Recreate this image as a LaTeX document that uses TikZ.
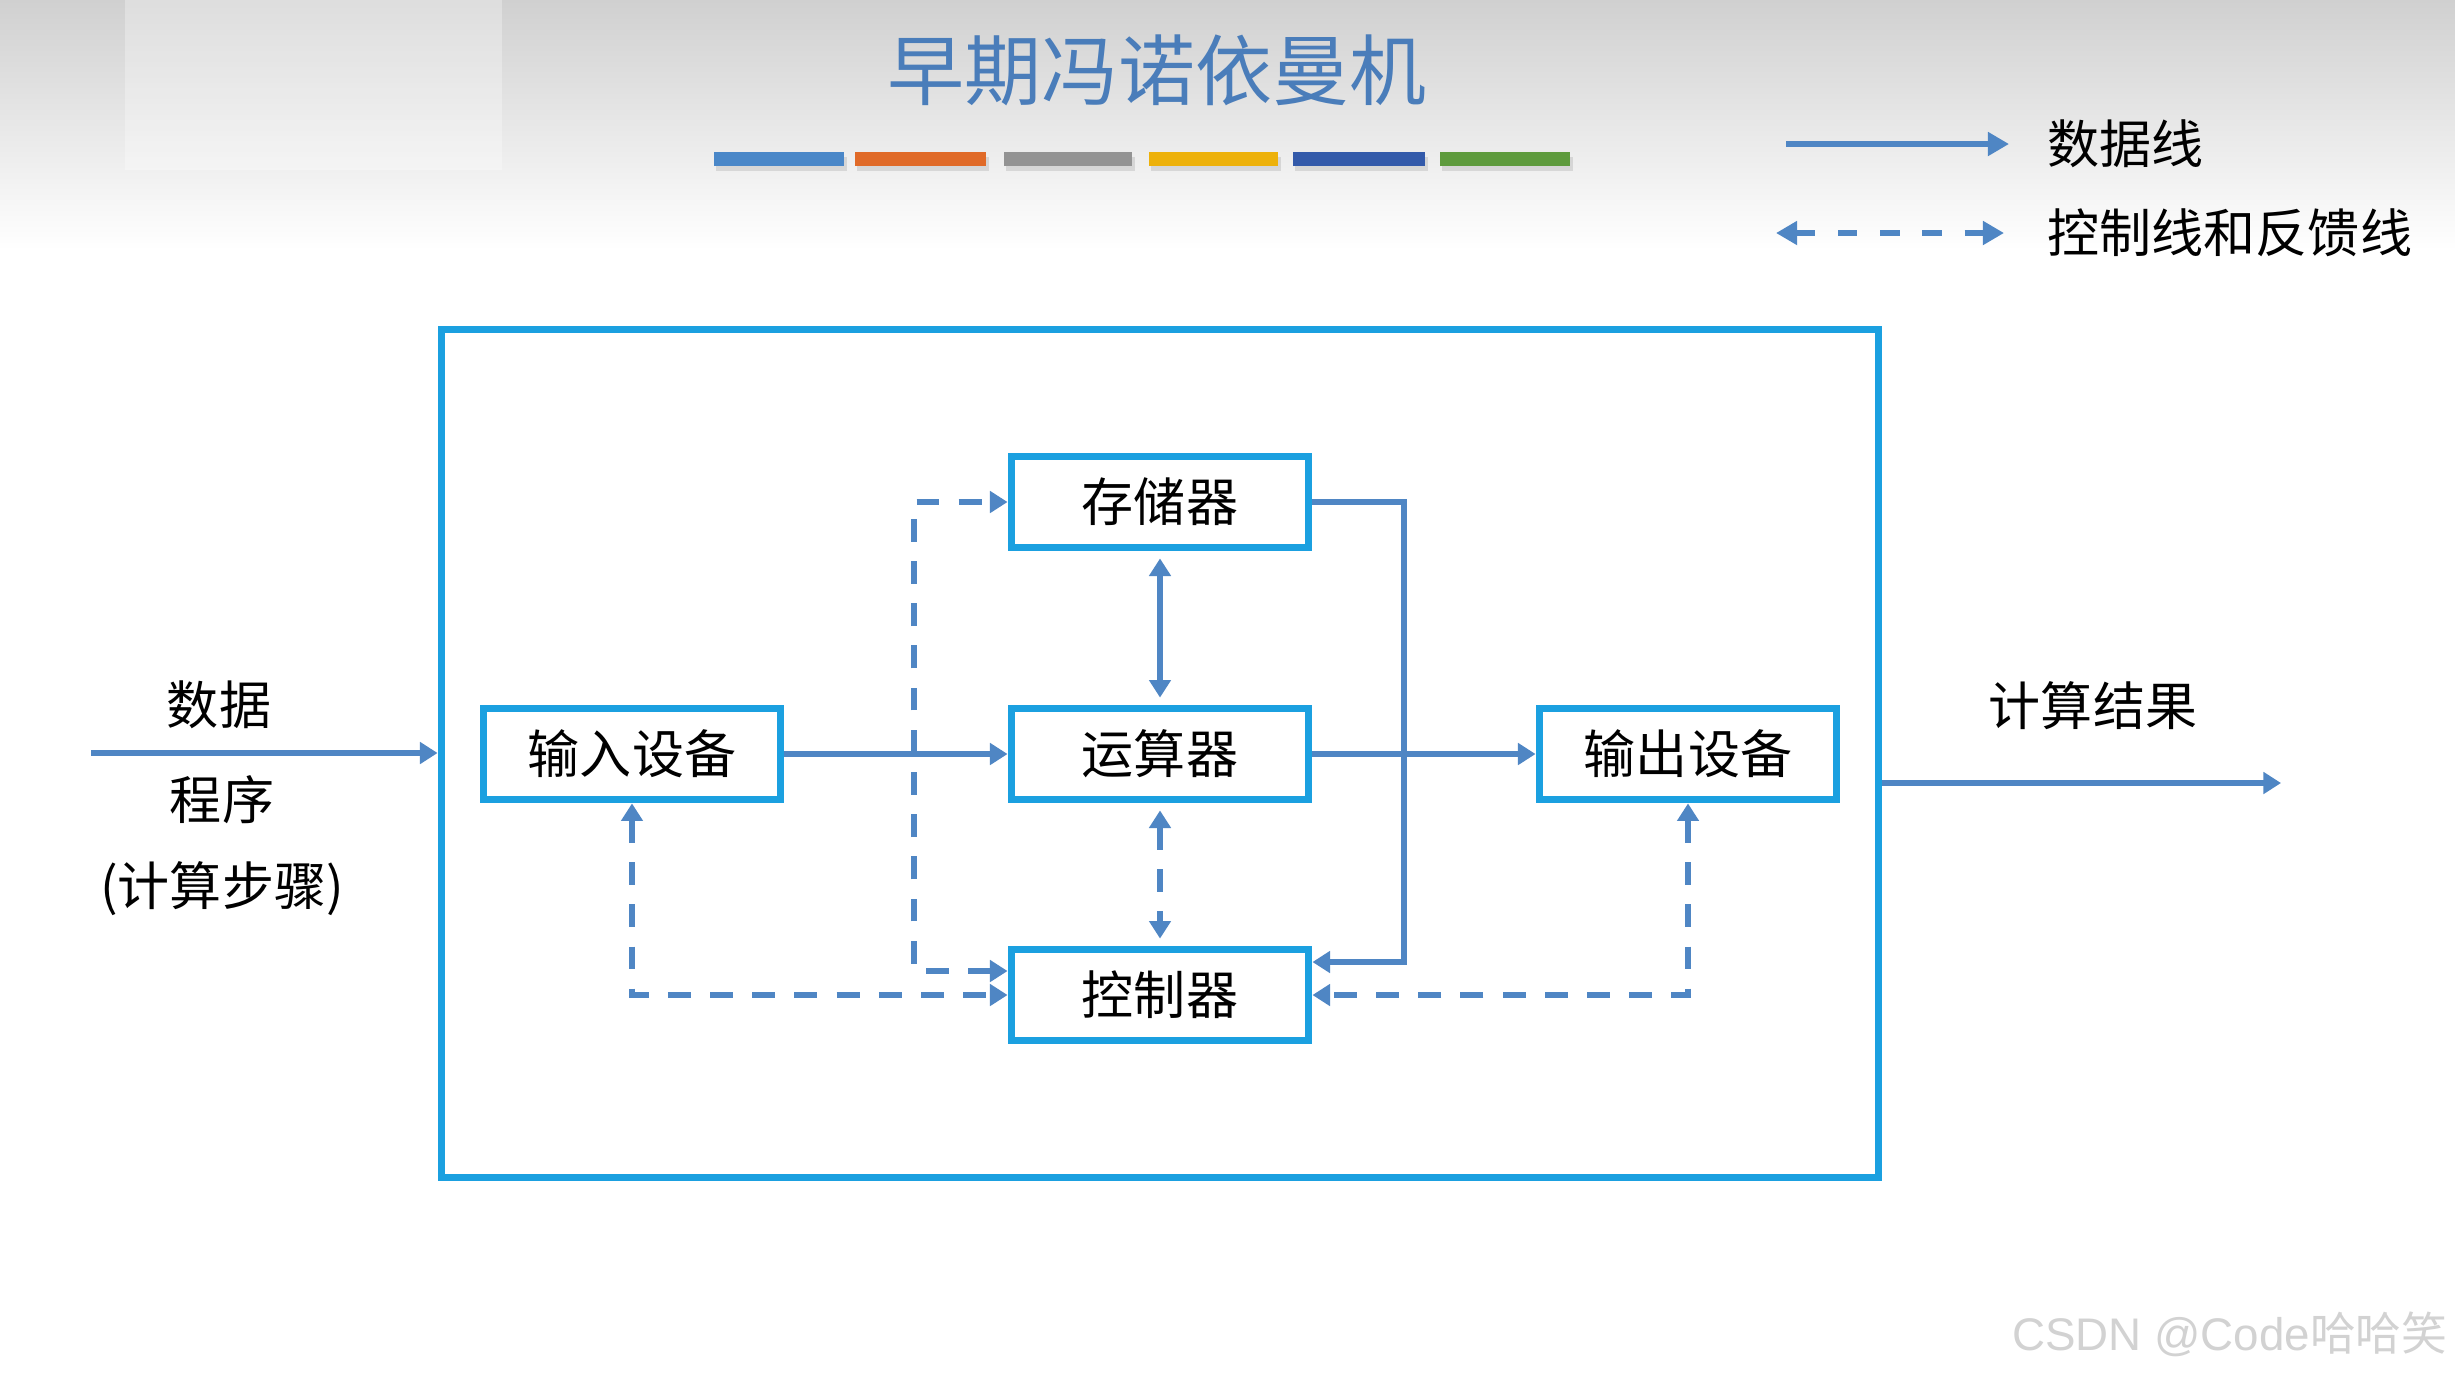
\documentclass[tikz,border=0pt]{standalone}
\usepackage{fontspec}
\setmainfont{Noto Sans CJK SC}
\newfontfamily\latinsans{Liberation Sans}
\usetikzlibrary{arrows.meta,calc}
\definecolor{boxblue}{HTML}{1BA0E0}
\definecolor{linkblue}{HTML}{4F86C4}
\definecolor{titleblue}{HTML}{4A7DBA}
\definecolor{barA}{HTML}{4A87C8}
\definecolor{barB}{HTML}{E06A28}
\definecolor{barC}{HTML}{939393}
\definecolor{barD}{HTML}{EDB10A}
\definecolor{barE}{HTML}{335AAA}
\definecolor{barF}{HTML}{5E9B3D}
\definecolor{topgray}{HTML}{D0D0D0}
\definecolor{wmgray}{HTML}{D2D2D2}
\begin{document}
\begin{tikzpicture}[x=0.01cm,y=-0.01cm,
  >={Triangle[length=5pt,width=6pt]},
  unit/.style={draw=boxblue, line width=2.2pt, fill=white, minimum width=2.97cm,
    minimum height=0.91cm, inner sep=0pt, font=\fontsize{14.8}{18}\selectfont},
  frame/.style={draw=boxblue, line width=2pt, minimum width=14.37cm,
    minimum height=8.48cm, inner sep=0pt},
  data/.style={draw=linkblue, line width=1.6pt},
  ctrl/.style={data, dash pattern=on 6.5pt off 5.5pt},
  lbl/.style={font=\fontsize{14.8}{18}\selectfont, inner sep=0pt}]
\useasboundingbox (0,0) rectangle (2455,1375);
% background
\fill[white] (0,0) rectangle (2455,1375);
\shade[top color=topgray, bottom color=white] (0,0) rectangle (2455,250);
\fill[white, opacity=0.3] (125,0) rectangle (502,170);

% title
\node[font=\fontsize{21.9}{26}\selectfont, text=titleblue, inner sep=0pt] (title) at (1157,70) {早期冯诺依曼机};

% colour bars
\foreach \a/\b/\c in {714/844/barA, 855/986/barB, 1004/1132/barC, 1149/1278/barD, 1293/1425/barE, 1440/1570/barF}{
  \fill[black, opacity=0.10] (\a+2,157) rectangle (\b+3,171);
  \fill[\c] (\a,152) rectangle (\b,166);
}

% legend
\coordinate (la1) at (1786,144);
\coordinate (lb1) at (2009,144);
\draw[data,-{Triangle[length=6pt,width=6.5pt]}] (la1) -- (lb1);
\node[lbl, anchor=west] (lt1) at (2047,144) {数据线};
\coordinate (la2) at (1776,233);
\coordinate (lb2) at (2004,233);
\draw[ctrl,{Triangle[length=6pt,width=6.5pt]}-{Triangle[length=6pt,width=6.5pt]}, dash pattern=on 5.5pt off 6.5pt, line width=1.9pt] (la2) -- (lb2);
\node[lbl, anchor=west] (lt2) at (2047,233) {控制线和反馈线};

% outer system frame
\node[frame] (sys) at (1160,753.5) {};

% units
\node[unit] (mem) at (1160,502) {存储器};
\node[unit] (alu) at (1160,754) {运算器};
\node[unit] (ctl) at (1160,995) {控制器};
\node[unit] (inp) at (632,754) {输入设备};
\node[unit] (out) at (1688,754) {输出设备};

% external input
\coordinate (src) at (91,753);
\draw[data,->] (src) -- (src -| sys.west);
\node[lbl] (t1) at (219,705) {数据};
\node[lbl] (t2) at (222,800) {程序};
\node[lbl] (t3) at (222,889) {(计算步骤)};

% external output
\coordinate (dst) at (2281,783);
\draw[data,->] (dst -| sys.east) -- (dst);
\node[lbl] (t4) at (2093,706) {计算结果};

% data lines
\draw[data,->] (inp.east) -- (alu.west);
\draw[data,->] (alu.east) -- (out.west);
\draw[data,<->, shorten <=2pt, shorten >=2pt] (mem.south) -- (alu.north);
\coordinate (rj) at (1404,502);
\draw[data,->] (mem.east) -- (rj) |- ($(ctl.east)+(0,-33)$);

% control / feedback lines
\draw[ctrl,<->, shorten <=2pt, shorten >=2pt] (alu.south) -- (ctl.north);
\coordinate (lj) at (914,502);
\draw[ctrl,<->] ($(ctl.west)+(0,-24)$) -| (lj) -- (mem.west);
\draw[ctrl,<->] (inp.south) |- (ctl.west);
\draw[ctrl,<->] (out.south) |- (ctl.east);

% watermark
\node[anchor=east, text=wmgray, inner sep=0pt, font=\fontsize{13}{16}\selectfont] (wm) at (2448,1334) {{\latinsans CSDN @Code}哈哈笑};
\end{tikzpicture}
\end{document}
